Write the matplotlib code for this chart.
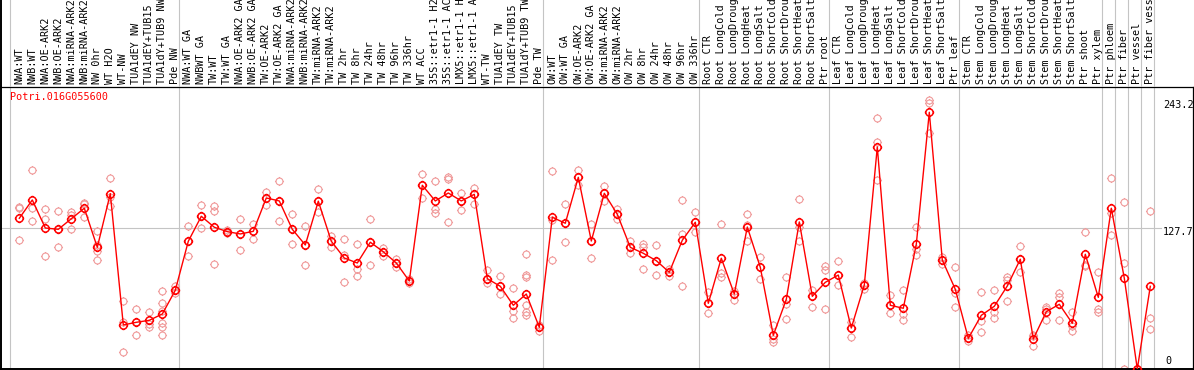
import matplotlib
matplotlib.use('Agg')
import matplotlib.pyplot as plt
from matplotlib.path import Path

GENE = 'Potri.016G055600'

labels = [
    'NWA:WT', 'NWB:WT', 'NWA:OE-ARK2', 'NWB:OE-ARK2', 'NWA:miRNA-ARK2', 'NWB:miRNA-ARK2',
    'NW 0hr', 'WT H2O', 'WT-NW', 'TUA1dEY NW', 'TUA1dEY+TUB15 NW', 'TUA1dY+TUB9 NW', 'Pde NW',
    'NWA:WT GA', 'NWBWT GA', 'TW:WT', 'TW:WT GA', 'NWA:OE-ARK2 GA', 'NWB:OE-ARK2 GA',
    'TW:OE-ARK2', 'TW:OE-ARK2 GA', 'NWA:miRNA-ARK2 GA', 'NWB:miRNA-ARK2 GA', 'TW:miRNA-ARK2',
    'TW:miRNA-ARK2', 'TW 2hr', 'TW 8hr', 'TW 24hr', 'TW 48hr', 'TW 96hr', 'TW 336hr', 'WT ACC',
    '35S::etr1-1 H2O', '35S::etr1-1 ACC', 'LMX5::etr1-1 H2O', 'LMX5::etr1-1 ACC', 'WT-TW',
    'TUA1dEY TW', 'TUA1dEY+TUB15 TW', 'TUA1dY+TUB9 TW', 'Pde TW',
    'OW:WT', 'OW:WT GA', 'OW:OE-ARK2', 'OW:OE-ARK2 GA', 'OW:miRNA-ARK2', 'OW:miRNA-ARK2',
    'OW 2hr', 'OW 8hr', 'OW 24hr', 'OW 48hr', 'OW 96hr', 'OW 336hr',
    'Root CTR', 'Root LongCold', 'Root LongDrought', 'Root LongHeat', 'Root LongSalt',
    'Root ShortCold', 'Root ShortDrought', 'Root ShortHeat', 'Root ShortSalt', 'Ptr root',
    'Leaf CTR', 'Leaf LongCold', 'Leaf LongDrought', 'Leaf LongHeat', 'Leaf LongSalt',
    'Leaf ShortCold', 'Leaf ShortDrought', 'Leaf ShortHeat', 'Leaf ShortSalt', 'Ptr leaf',
    'Stem CTR', 'Stem LongCold', 'Stem LongDrought', 'Stem LongHeat', 'Stem LongSalt',
    'Stem ShortCold', 'Stem ShortDrought', 'Stem ShortHeat', 'Stem ShortSalt', 'Ptr shoot',
    'Ptr xylem', 'Ptr phloem', 'Ptr fiber', 'Ptr vessel', 'Ptr fiber vessel',
]

# index where each group starts (separator lines)
group_starts = [0, 13, 41, 53, 63, 73, 84, 85, 86, 87, 88]

means = [
    136.5, 153.1, 127.7, 126.5, 136.1, 145.6, 110.2, 158.8, 39.9, 42.3, 44.1, 49.8, 71.3,
    115.7, 138.3, 128.4, 124.4, 122.3, 124.7, 154.9, 152.2, 126.5, 112.3, 152.0, 115.7,
    100.5, 96.0, 114.8, 106.2, 96.0, 79.7, 166.4, 152.2, 159.4, 152.2, 158.2, 81.8, 74.9,
    57.7, 67.9, 37.8,
    137.4, 132.0, 173.6, 115.9, 159.1, 140.1, 110.2, 104.8, 98.1, 87.6, 116.6, 132.9,
    59.5, 100.3, 67.9, 128.6, 92.1, 30.5, 63.1, 133.2, 65.8, 78.5,
    85.1, 37.1, 76.1, 201.1, 57.7, 55.0, 113.0, 232.5, 98.7, 72.2,
    27.8, 48.6, 56.8, 75.2, 99.4, 27.2, 51.9, 58.6, 41.4, 103.9, 64.9,
    145.6, 82.2, 0.0, 74.9,
]

replicates = [
    [146.5, 145.6, 116.6], [180.0, 145.6, 133.8], [144.7, 135.6, 102.4], [142.8, 126.5, 110.2],
    [142.2, 139.5, 126.5], [150.6, 149.5, 137.4], [124.7, 112.0, 107.2, 98.5],
    [172.7, 155.5, 147.9], [61.6, 42.3, 15.1], [54.1, 42.3, 30.5], [51.4, 41.0, 38.0],
    [70.4, 59.5, 52.8, 41.4, 37.8, 30.5], [75.2, 71.3, 68.6],
    [129.3, 115.7, 102.1], [148.3, 138.3, 127.4], [147.6, 143.4, 95.1], [125.5, 124.4, 123.3],
    [135.6, 122.3, 107.5], [131.1, 124.7, 117.5], [160.3, 154.9, 148.8], [170.0, 152.2, 133.8],
    [140.7, 126.5, 113.0], [129.5, 112.3, 93.9], [163.0, 152.0, 141.9], [120.7, 115.7, 110.8],
    [117.5, 103.5, 78.5], [113.5, 90.3, 84.2], [135.6, 114.8, 93.9], [109.9, 106.2, 102.6],
    [99.6, 96.0, 92.4], [81.5, 79.7, 77.6], [176.6, 166.4, 154.6], [170.0, 144.7, 141.6],
    [173.6, 172.1, 132.9], [159.4, 152.2, 143.8], [163.9, 158.2, 149.2], [89.7, 81.8, 78.2],
    [84.2, 74.9, 67.9], [73.1, 52.8, 45.9], [103.9, 85.1, 83.1, 57.7, 51.9, 48.6],
    [39.9, 37.8, 34.7],
    [179.1, 135.2, 98.5], [149.2, 132.0, 114.8], [180.0, 173.6, 166.7], [131.1, 115.9, 100.3],
    [165.5, 159.1, 151.9], [145.2, 140.1, 135.6], [115.9, 110.2, 104.8], [113.5, 110.5, 90.3],
    [112.0, 98.1, 84.9], [90.9, 87.6, 84.5], [152.8, 122.3, 74.9], [142.2, 132.9, 123.8],
    [69.5, 59.5, 51.0], [131.1, 86.7, 83.1], [70.9, 67.9, 62.2], [140.1, 130.4, 115.7],
    [101.4, 92.1, 81.3], [39.9, 26.9, 24.7], [83.1, 59.1, 45.3], [154.0, 128.6, 116.2],
    [71.3, 65.8, 55.9], [93.3, 89.4, 54.1],
    [97.6, 85.1, 75.8], [42.3, 37.1, 29.0], [78.2, 76.1, 72.5], [227.4, 205.6, 171.0],
    [67.0, 57.7, 51.0], [71.6, 49.8, 44.1], [128.6, 108.7, 103.0], [243.2, 240.5, 213.8],
    [101.7, 98.7, 95.1], [92.4, 68.8, 55.9],
    [30.8, 27.8, 25.6], [69.5, 43.5, 33.2], [71.3, 51.9, 46.5], [83.3, 80.7, 61.6],
    [111.1, 99.4, 87.9], [30.9, 29.6, 21.1], [56.4, 54.6, 44.7], [68.8, 64.9, 44.1],
    [51.4, 38.7, 34.1], [123.8, 94.2, 93.7], [88.1, 54.6, 51.9],
    [172.7, 141.0, 121.6], [151.0, 96.0, 0.0], [0.0, 0.0, 0.0], [142.8, 45.9, 36.2],
]

y_ticks = [0, 127.7, 243.2]
y_top = 255.4

RED = '#ff0000'
PINK = '#f09a9a'
GRID = '#c4c4c4'
MONO = 'DejaVu Sans Mono'

# open circle with four little ticks, like the original glyph
ring = Path.unit_circle()
ticks = Path([[0, 1], [0, 1.3], [0, -1], [0, -1.3], [1, 0], [1.3, 0], [-1, 0], [-1.3, 0]],
             [Path.MOVETO, Path.LINETO] * 4)
MARK = Path.make_compound_path(ring, ticks)

W, H = 1194, 370
fig = plt.figure(figsize=(W / 100, H / 100), dpi=100)

# main plot area: pixels 87..369 vertically
ax = fig.add_axes([1 / W, 1 / H, 1192 / W, 282 / H])
hdr = fig.add_axes([1 / W, 283 / H, 1192 / W, 87 / H], sharex=ax)

x = list(range(len(means)))
x0 = -18.3 / 13
ax.set_xlim(x0, x0 + 1192 / 13)
ax.set_ylim(0, y_top)

for g in group_starts:
    ax.axvline(g - 0.69, color=GRID, lw=0.8, zorder=1)
    hdr.axvline(g - 0.69, color=GRID, lw=0.8, zorder=1)
ax.axhline(y_ticks[1], xmax=1160 / 1192, color=GRID, lw=0.8, zorder=1)

for i, reps in enumerate(replicates):
    ax.plot([i] * len(reps), reps, ls='none', marker=MARK, ms=6.5, mfc='none',
            mec=PINK, mew=0.8, zorder=2)

ax.plot(x, means, color=RED, lw=1.0, marker=MARK, ms=6.8, mfc='none', mec=RED,
        mew=1.1, zorder=3)

ax.set_xticks([])
ax.set_yticks([])
for side in ['left', 'bottom']:
    ax.spines[side].set_linewidth(1.4)
for side in ['top', 'right']:
    ax.spines[side].set_linewidth(0.9)
for s in ax.spines.values():
    s.set_color('black')

ytf = ax.get_yaxis_transform()
for val in y_ticks:
    lab = '0' if val == 0 else f'{val:.1f}'
    if val == 0:
        ax.annotate(lab, (1164 / 1192, val), xycoords=ytf, xytext=(0, 2.5),
                    textcoords='offset points', va='bottom', ha='left',
                    fontsize=7.3, family=MONO)
    else:
        ax.annotate(lab, (1162 / 1192, val), xycoords=ytf, xytext=(0, 0.5),
                    textcoords='offset points', va='top', ha='left',
                    fontsize=7.3, family=MONO)

ax.text(9 / 1192, 1 - 10 / 282, GENE, transform=ax.transAxes, color=RED,
        fontsize=7.3, family=MONO, va='center', ha='left')

hdr.set_ylim(0, 1)
hdr.axis('off')
hdr.plot([x0, x0], [0, 1], color='black', lw=1.4, clip_on=False)
for i, lab in enumerate(labels):
    hdr.text(i, 3 / 87, lab, rotation=90, ha='center', va='bottom',
             fontsize=7.3, family=MONO, clip_on=True)

fig.savefig('out.png', dpi=100)
